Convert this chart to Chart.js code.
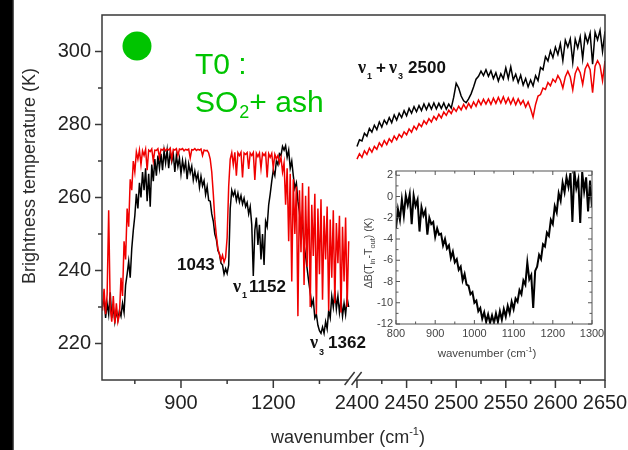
<!DOCTYPE html>
<html>
<head>
<meta charset="utf-8">
<script src="https://cdn.jsdelivr.net/npm/chart.js@4.4.1/dist/chart.umd.min.js"></script>
<style>
  html, body { margin: 0; padding: 0; background: #fff; }
  #wrap { position: relative; width: 628px; height: 450px; overflow: hidden; background: #fff; }
  #edge { position: absolute; left: 0; top: 0; width: 14px; height: 450px; background: linear-gradient(to right, #000 0, #000 12px, #777 14px); }
  #main { position: absolute; left: 0; top: 0; }
  #inset { position: absolute; left: 355px; top: 160px; }
</style>
</head>
<body>
<div id="wrap">
  <canvas id="main" width="628" height="450"></canvas>
  <canvas id="inset" width="250" height="205"></canvas>
  <div id="edge"></div>
</div>
<script>
// left window of the spectrum: 645 .. 1445 cm-1, one value every 5 cm-1
const leftStart = 645, leftStep = 5;
const leftClear = [
  229, 235, 228, 233.5, 256.5, 230, 226, 233, 225.5, 231,
  226, 228, 238, 233, 248, 243, 257, 252, 265, 262,
  270, 267, 272.5, 270.5, 273, 269, 272.8, 271.5, 273.2, 267.5,
  273, 272.6, 273.3, 270, 273, 272.9, 273.4, 271, 273.2, 273,
  273.5, 272.8, 273.3, 273, 273.5, 270.5, 273.2, 273, 273.4, 271.5,
  273.3, 273.1, 273.4, 272.8, 273.2, 273, 273.3, 270.8, 273.1, 273,
  273.4, 272.9, 273.2, 273, 273.3, 271.5, 273, 272.8, 272.9, 272.2,
  270.5, 267, 261, 254, 249.5, 246, 244.5, 242.8, 244.2, 242.3,
  243.6, 249, 263, 270.5, 272.3, 269, 272.4, 266, 272.3, 271.5,
  272.4, 265.5, 272.2, 271.8, 272.3, 267.8, 272.2, 271.5, 272.3, 264.8,
  272.1, 271.2, 272.2, 268, 272.1, 271.5, 272.2, 265.5, 272, 271,
  272.1, 268, 271.8, 270.6, 271.5, 269.5, 271, 267, 269.5, 258,
  268, 248, 266.5, 237, 265, 250, 263, 227.5, 262, 245,
  264, 236, 260.5, 241, 263, 230, 258, 244, 261, 228,
  257, 239, 259.5, 232, 255, 243, 257.5, 229, 254, 238,
  256.5, 231, 253, 242, 255, 228.5, 252, 237, 254.5, 230,
  248
];
const leftAsh = [
  230, 233, 227, 231, 228, 234, 227, 230, 226, 229,
  226.5, 229, 227.5, 231, 228.5, 236, 239, 242.5, 238, 246,
  251, 255, 261, 257, 264, 260, 267, 262, 268, 259,
  266.5, 257.5, 269, 264.5, 270.5, 266, 271.5, 268, 272, 267.5,
  272.8, 269.5, 273, 268, 272.5, 269.8, 272, 267, 271.5, 268.5,
  270.8, 266.5, 270.2, 267.5, 269.8, 265, 269.2, 266.8, 268.6, 264.8,
  267.2, 264.8, 266.5, 262.8, 265.8, 263.2, 264.6, 260.8, 263, 259.2,
  259, 255.5, 253.5, 250, 248.5, 245.5, 244.5, 242, 241.5, 239,
  240.5, 239.2, 241.5, 257, 262, 260.5, 261.8, 259.2, 261.2, 258.8,
  260.5, 258.2, 259.8, 257.5, 258.6, 255.5, 257.5, 252.5, 238.5, 251,
  254.5, 247, 252.5, 243, 250, 241.5, 253.5, 252, 258, 261,
  264.5, 267.5, 266, 270, 269, 272, 271.5, 274, 273, 274.2,
  271, 273, 268, 270, 266, 262.5, 264, 259, 256, 251,
  253, 247, 244, 240.5, 237, 234, 230.5, 232, 227, 228,
  225, 223.5, 222.8, 224.5, 222.8, 226, 224, 229, 227, 233,
  230, 234.5, 229.5, 233, 228.5, 232, 227.5, 231, 228, 232.5,
  230
];

// right window: 2400 .. 2650 cm-1, every 2.5 cm-1
const rightStart = 2400, rightStep = 2.5;
const rightClear = [
  270.5, 272, 271, 272.8, 271.8, 273.5, 272.4, 274, 273.2, 275,
  274, 275.6, 274.5, 276.1, 275.2, 276.8, 275.8, 277.3, 276.5, 278,
  277.2, 278.8, 277.9, 279.5, 278.6, 280.2, 279.4, 281, 280.1, 281.6,
  280.7, 282.2, 281.3, 282.8, 281.8, 283.4, 282.5, 283.9, 283, 284.5,
  283.6, 285, 284, 285.5, 284.3, 285.8, 284.6, 286.2, 285, 286.7,
  285.4, 286.9, 285.6, 287, 285.5, 287.2, 285.8, 287.4, 285.9, 287.6,
  285.8, 287.3, 285.6, 287.2, 285.4, 287, 285.5, 286.6, 284.8, 286.2,
  284.3, 282, 285.5, 287.8, 288.2, 290, 289.6, 291.5, 290.6, 292.4,
  291.6, 293.4, 292.2, 290, 293.1, 294.6, 293, 289.5, 294, 295.6,
  294.2, 291, 295.2, 296.6, 295, 288.7, 296, 297.5, 296.2, 292,
  297.4
];
const rightAsh = [
  274.0, 275.8, 275.5, 277.6, 276.8, 278.9, 277.9, 279.8, 278.6, 280.7,
  279.3, 281.2, 280.1, 281.9, 280.5, 282.6, 281.2, 283.1, 281.9, 283.8,
  282.4, 284.4, 283.1, 284.9, 283.5, 285.2, 283.8, 285.6, 284.1, 285.7,
  284.2, 285.9, 284.3, 285.8, 284.4, 285.9, 284.2, 285.6, 284.5, 287.5,
  291.3, 290, 287.8, 286.5, 286, 287, 288.4, 290.3, 292.4, 293.2,
  294.6, 293.4, 295, 293.2, 294.7, 292.6, 294.2, 291.9, 293.9, 292.5,
  295.5, 292.6, 295.8, 292.2, 293.8, 291.5, 293.5, 290.8, 292.6, 290.3,
  292.2, 290.6, 293.4, 292, 295.6, 295, 298.6, 297.4, 300.2, 298.3,
  301.2, 299.2, 302.1, 297.5, 303.1, 301.2, 303.5, 297, 303.4, 301,
  304, 298, 304.6, 302.4, 305, 296.5, 305.3, 303.2, 305.8, 300,
  305.5
];

// inset: brightness temperature difference, 800 .. 1300 cm-1 every 5 cm-1
const insetStart = 800, insetStep = 5;
const insetDiff = [
  -3.0, -1.2, -2.2, -0.3, -1.8, 0.1, -0.8, 0.2, -2.6, 0.1,
  -0.9, -0.3, -3.3, -1.0, -1.8, -1.3, -3.6, -2.0, -2.6, -2.4,
  -3.8, -3.0, -3.6, -3.5, -4.6, -4.0, -4.9, -4.6, -5.8, -5.2,
  -6.2, -5.9, -6.9, -6.6, -7.9, -7.3, -8.3, -8.4, -9.2, -9.0,
  -10.0, -9.8, -10.8, -10.5, -11.5, -10.9, -11.8, -11.1, -11.9, -11.2,
  -11.9, -11.0, -11.8, -10.8, -11.6, -10.6, -11.3, -10.3, -11.0, -9.9,
  -10.6, -9.6, -9.9, -8.8, -9.2, -7.9, -8.3, -6.2, -7.8, -7.4,
  -10.5, -7.0, -6.6, -5.5, -5.9, -4.5, -4.7, -3.4, -3.7, -2.2,
  -2.6, -0.9, -1.5, 0.3, -0.4, 1.3, 0.4, 1.8, 0.9, 2.2,
  -2.4, 2.4, 0.8, 1.6, -2.5, 2.3, 0.5, 1.8, -1.4, 1.5,
  -1.0
];

const xMajor = [900, 1200, 2400, 2450, 2500, 2550, 2600, 2650];
const xMinor = [750, 1050, 1350, 2425, 2475, 2525, 2575, 2625];
const yMajor = [220, 240, 260, 280, 300];
const yMinor = [230, 250, 270, 290];
const insetXMajor = [800, 900, 1000, 1100, 1200, 1300];
const insetXMinor = [850, 950, 1050, 1150, 1250];
const insetYMajor = [-12, -10, -8, -6, -4, -2, 0, 2];
const insetYMinor = [-11, -9, -7, -5, -3, -1, 1];

// broken x axis: the 2400+ window is stretched and put right after the 1450 end
const LEFT_END = 1450, BREAK_FROM = 2400, BREAK_AT = 1472, STRETCH = 3.224;
const toAxis = w => w < BREAK_FROM ? w : BREAK_AT + (w - BREAK_FROM) * STRETCH;
const fromAxis = v => v < BREAK_AT - 1 ? v : BREAK_FROM + (v - BREAK_AT) / STRETCH;

const FONT = '"Liberation Sans", Arial, sans-serif';
const SERIF = '"Liberation Serif", "Times New Roman", serif';
const RED = '#f00000';
const GREEN = '#00c400';

Chart.defaults.font.family = FONT;
Chart.defaults.color = '#222';

const toPoints = (start, step, ys, map) => ys.map((y, i) => ({ x: map(start + i * step), y: y }));

function richText(ctx, parts, x, y, align) {
    const fontOf = p => (p.bold ? 'bold ' : '') + p.size + 'px ' + (p.serif ? SERIF : FONT);
    let w = 0;
    parts.forEach(p => { ctx.font = fontOf(p); w += (p.gap || 0) + ctx.measureText(p.t).width; });
    let cx = align === 'center' ? x - w / 2 : x;
    ctx.textAlign = 'left';
    ctx.textBaseline = 'alphabetic';
    parts.forEach(p => {
        ctx.font = fontOf(p);
        cx += p.gap || 0;
        ctx.fillText(p.t, cx, y + (p.dy || 0));
        cx += ctx.measureText(p.t).width;
    });
}

const mainDecor = {
    id: 'mainDecor',
    afterDraw(chart) {
        const { ctx, chartArea: a, scales: { x, y } } = chart;
        ctx.save();
        ctx.strokeStyle = '#383838';
        ctx.lineWidth = 1.5;
        ctx.strokeRect(a.left, a.top, a.right - a.left, a.bottom - a.top);

        ctx.beginPath();
        const xt = (list, len) => list.forEach(w => {
            const p = x.getPixelForValue(toAxis(w));
            ctx.moveTo(p, a.bottom); ctx.lineTo(p, a.bottom + len);
        });
        const yt = (list, len) => list.forEach(v => {
            const p = y.getPixelForValue(v);
            ctx.moveTo(a.left, p); ctx.lineTo(a.left - len, p);
        });
        xt(xMajor, 8); xt(xMinor, 4);
        yt(yMajor, 7); yt(yMinor, 4);
        ctx.stroke();

        // axis break marks
        const bx = (x.getPixelForValue(LEFT_END) + x.getPixelForValue(BREAK_AT)) / 2;
        const b = a.bottom;
        ctx.fillStyle = '#fff';
        ctx.beginPath();
        ctx.moveTo(bx - 9, b + 5); ctx.lineTo(bx + 1, b - 8);
        ctx.lineTo(bx + 8, b - 8); ctx.lineTo(bx - 2, b + 5);
        ctx.closePath(); ctx.fill();
        ctx.beginPath();
        ctx.moveTo(bx - 9, b + 5); ctx.lineTo(bx + 1, b - 8);
        ctx.moveTo(bx - 2, b + 5); ctx.lineTo(bx + 8, b - 8);
        ctx.stroke();

        // axis titles
        ctx.fillStyle = '#2a2a2a';
        ctx.save();
        ctx.translate(35, 176);
        ctx.rotate(-Math.PI / 2);
        ctx.font = '18px ' + FONT;
        ctx.textAlign = 'center';
        ctx.fillText('Brightness temperature (K)', 0, 0);
        ctx.restore();
        richText(ctx, [{ t: 'wavenumber (cm', size: 18 }, { t: '-1', size: 11, dy: -8 }, { t: ')', size: 18 }], 348, 443, 'center');

        // band labels
        ctx.fillStyle = '#111';
        richText(ctx, [{ t: '1043', size: 17, bold: true }], 177, 270);
        richText(ctx, [{ t: 'ν', size: 18, bold: true, serif: true }, { t: '1', size: 9, bold: true, dy: 6, gap: 1 },
            { t: '1152', size: 17, bold: true, gap: 2 }], 233, 292);
        richText(ctx, [{ t: 'ν', size: 18, bold: true, serif: true }, { t: '3', size: 9, bold: true, dy: 7, gap: 1 },
            { t: '1362', size: 17, bold: true, gap: 4 }], 310, 348);
        richText(ctx, [{ t: 'ν', size: 18, bold: true, serif: true }, { t: '1', size: 9, bold: true, dy: 6, gap: 1 },
            { t: '+', size: 17, bold: true, gap: 4 }, { t: 'ν', size: 18, bold: true, serif: true, gap: 3 },
            { t: '3', size: 9, bold: true, dy: 6, gap: 1 }, { t: '2500', size: 17, bold: true, gap: 5 }], 358, 73);

        // green mark and case label
        ctx.fillStyle = GREEN;
        ctx.beginPath();
        ctx.arc(137, 46, 14.5, 0, Math.PI * 2);
        ctx.fill();
        richText(ctx, [{ t: 'T0 :', size: 30 }], 195, 74);
        richText(ctx, [{ t: 'SO', size: 30 }, { t: '2', size: 18, dy: 6, gap: 1 }, { t: '+ ash', size: 30 }], 195, 112);
        ctx.restore();
    }
};

new Chart(document.getElementById('main'), {
    type: 'line',
    data: {
        datasets: [
            { data: toPoints(leftStart, leftStep, leftClear, toAxis), borderColor: RED },
            { data: toPoints(rightStart, rightStep, rightClear, toAxis), borderColor: RED },
            { data: toPoints(leftStart, leftStep, leftAsh, toAxis), borderColor: '#000' },
            { data: toPoints(rightStart, rightStep, rightAsh, toAxis), borderColor: '#000' }
        ]
    },
    options: {
        responsive: false,
        animation: false,
        devicePixelRatio: 1,
        layout: { padding: { left: 0, right: 23, top: 15, bottom: 0 } },
        elements: { point: { radius: 0 }, line: { borderWidth: 1.5, tension: 0 } },
        plugins: { legend: { display: false }, tooltip: { enabled: false } },
        scales: {
            x: {
                type: 'linear', min: 643.3, max: 2278,
                grid: { display: false, drawTicks: false }, border: { display: false },
                afterBuildTicks: s => {
                    s.ticks = xMajor.concat(xMinor).sort((p, q) => p - q).map(w => ({ value: toAxis(w) }));
                },
                afterFit: s => { s.height = 70; s.paddingLeft = 0; s.paddingRight = 0; },
                ticks: {
                    autoSkip: false, maxRotation: 0, minRotation: 0, padding: 11, color: '#222', font: { size: 20 },
                    callback: v => { const w = Math.round(fromAxis(v)); return xMajor.includes(w) ? String(w) : ''; }
                }
            },
            y: {
                min: 210, max: 310,
                grid: { display: false, drawTicks: false }, border: { display: false },
                afterBuildTicks: s => {
                    s.ticks = yMajor.concat(yMinor).sort((p, q) => p - q).map(v => ({ value: v }));
                },
                afterFit: s => { s.width = 102; s.paddingTop = 0; s.paddingBottom = 0; },
                ticks: {
                    padding: 11, color: '#222', font: { size: 20 },
                    callback: v => yMajor.includes(v) ? String(v) : ''
                }
            }
        }
    },
    plugins: [mainDecor]
});

const insetDecor = {
    id: 'insetDecor',
    afterDraw(chart) {
        const { ctx, chartArea: a, scales: { x, y } } = chart;
        ctx.save();
        ctx.strokeStyle = '#555';
        ctx.lineWidth = 1;
        ctx.strokeRect(a.left, a.top, a.right - a.left, a.bottom - a.top);
        ctx.beginPath();
        const xt = (list, len) => list.forEach(v => {
            const p = x.getPixelForValue(v);
            ctx.moveTo(p, a.bottom); ctx.lineTo(p, a.bottom - len);
            ctx.moveTo(p, a.top); ctx.lineTo(p, a.top + len);
        });
        const yt = (list, len) => list.forEach(v => {
            const p = y.getPixelForValue(v);
            ctx.moveTo(a.left, p); ctx.lineTo(a.left + len, p);
            ctx.moveTo(a.right, p); ctx.lineTo(a.right - len, p);
        });
        xt(insetXMajor, 4); xt(insetXMinor, 2.5);
        yt(insetYMajor, 4); yt(insetYMinor, 2.5);
        ctx.stroke();

        ctx.fillStyle = '#444';
        ctx.save();
        ctx.translate(17, 93);
        ctx.rotate(-Math.PI / 2);
        richText(ctx, [{ t: 'ΔB(T', size: 10.5 }, { t: 'in', size: 7.5, dy: 3 }, { t: '-T', size: 10.5 },
            { t: 'out', size: 7.5, dy: 3 }, { t: ') (K)', size: 10.5 }], 0, 0, 'center');
        ctx.restore();
        richText(ctx, [{ t: 'wavenumber (cm', size: 11.5 }, { t: '-1', size: 7.5, dy: -5 }, { t: ')', size: 11.5 }], 132, 197, 'center');
        ctx.restore();
    }
};

new Chart(document.getElementById('inset'), {
    type: 'line',
    data: {
        datasets: [
            { data: toPoints(insetStart, insetStep, insetDiff, v => v), borderColor: '#000' }
        ]
    },
    options: {
        responsive: false,
        animation: false,
        devicePixelRatio: 1,
        layout: { padding: { left: 0, right: 13, top: 11, bottom: 0 } },
        elements: { point: { radius: 0 }, line: { borderWidth: 2, tension: 0 } },
        plugins: { legend: { display: false }, tooltip: { enabled: false } },
        scales: {
            x: {
                type: 'linear', min: 800, max: 1300,
                grid: { display: false, drawTicks: false }, border: { display: false },
                afterBuildTicks: s => { s.ticks = insetXMajor.map(v => ({ value: v })); },
                afterFit: s => { s.height = 41; s.paddingLeft = 0; s.paddingRight = 0; },
                ticks: { autoSkip: false, maxRotation: 0, padding: 3, color: '#444', font: { size: 11 }, callback: v => String(v) }
            },
            y: {
                min: -12, max: 2.4,
                grid: { display: false, drawTicks: false }, border: { display: false },
                afterBuildTicks: s => { s.ticks = insetYMajor.map(v => ({ value: v })); },
                afterFit: s => { s.width = 41; s.paddingTop = 0; s.paddingBottom = 0; },
                ticks: { padding: 3, color: '#444', font: { size: 11 }, callback: v => String(v) }
            }
        }
    },
    plugins: [insetDecor]
});
</script>
</body>
</html>
